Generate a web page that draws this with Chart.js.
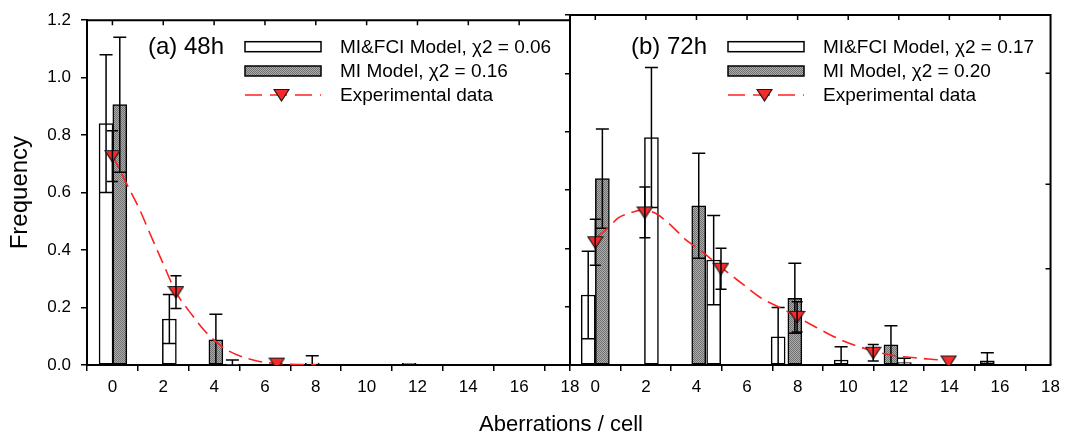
<!DOCTYPE html>
<html>
<head>
<meta charset="utf-8">
<script src="https://cdn.jsdelivr.net/npm/chart.js@4.4.1/dist/chart.umd.min.js"></script>
<style>
  html, body { margin: 0; padding: 0; background: #fff; }
  #wrap { position: relative; width: 1066px; height: 441px; overflow: hidden;
          font-family: "Liberation Sans", Arial, sans-serif; }
  #wrap canvas { position: absolute; left: 0; top: 0; }
  #xtitle { position: absolute; left: 0; top: 410px; width: 1122px; text-align: center;
            font-size: 22px; line-height: 28px; color: #000; }
</style>
</head>
<body>
<div id="wrap">
  <canvas id="c48" width="1066" height="441"></canvas>
  <canvas id="c72" width="1066" height="441"></canvas>
  <div id="xtitle">Aberrations / cell</div>
</div>
<script>
// Axis ticks shared by both panels
const xTicks = [0, 2, 4, 6, 8, 10, 12, 14, 16, 18];
const yTicks = [0, 0.2, 0.4, 0.6, 0.8, 1.0, 1.2];

// ---- 48 h ----
const fciX48 = [-0.25, 2.24, 4.72, 7.86];
const fciY48 = [0.84, 0.16, 0.003, 0.007];
const fciErr48 = [0.24, 0.085, 0.014, 0.025];

const miX48 = [0.29, 4.07, 11.67];
const miY48 = [0.906, 0.088, 0.006];
const miErr48 = [0.235, 0.089, 0];

const expX48 = [0, 2.5, 6.47];
const expY48 = [0.727, 0.254, 0.005];
const expErr48 = [0.088, 0.057, 0];

const fitX48 = [0, 0.54, 1.06, 1.45, 1.96, 2.5, 3.15, 3.67, 4.46, 5.5, 6.47, 8];
const fitY48 = [0.73, 0.634, 0.543, 0.463, 0.36, 0.254, 0.172, 0.115, 0.055, 0.018, 0.005, 0.001];

const legend48 = ['MI&FCI Model, \u03C72 = 0.06', 'MI Model, \u03C72 = 0.16', 'Experimental data'];

// ---- 72 h ----
const fciX72 = [-0.28, 2.22, 4.68, 7.23, 9.72, 12.22];
const fciY72 = [0.24, 0.78, 0.36, 0.097, 0.017, 0.008];
const fciErr72 = [0.15, 0.24, 0.153, 0.1, 0.046, 0.015];

const miX72 = [0.28, 4.09, 7.89, 11.69, 15.5];
const miY72 = [0.639, 0.546, 0.229, 0.069, 0.014];
const miErr72 = [0.17, 0.18, 0.12, 0.066, 0.028];

const expX72 = [0, 1.96, 4.97, 7.98, 10.99, 13.97];
const expY72 = [0.421, 0.523, 0.33, 0.165, 0.042, 0.012];
const expErr72 = [0.079, 0.087, 0.07, 0.052, 0.028, 0];

const fitX72 = [0.1, 0.62, 0.88, 1.34, 1.86, 2.38, 2.9, 3.56, 4.22, 4.94, 5.79, 6.57, 7.36, 8.02, 8.8, 9.72, 10.64, 11.68, 12.86, 13.65, 14];
const fitY72 = [0.44, 0.48, 0.503, 0.52, 0.531, 0.52, 0.486, 0.431, 0.389, 0.337, 0.28, 0.229, 0.194, 0.163, 0.126, 0.086, 0.057, 0.034, 0.023, 0.017, 0.012];

const legend72 = ['MI&FCI Model, \u03C72 = 0.17', 'MI Model, \u03C72 = 0.20', 'Experimental data'];

// Marks on the right-hand frame of the 72 h panel
const rightMarks72 = [1.0, 0.62, 0.33];

const FONT = '"Liberation Sans", Arial, sans-serif';
Chart.defaults.font.family = FONT;
Chart.defaults.color = '#000';

const pts = (xs, ys) => xs.map((v, i) => ({ x: v, y: ys[i] }));

// Fine dotted grey fill for the MI model bars
function makeGrey() {
  const c = document.createElement('canvas');
  c.width = 2; c.height = 2;
  const g = c.getContext('2d');
  g.fillStyle = '#adadad'; g.fillRect(0, 0, 2, 2);
  g.fillStyle = '#707070'; g.fillRect(0, 0, 1, 1); g.fillRect(1, 1, 1, 1);
  return g.createPattern(c, 'repeat');
}
const grey = makeGrey();

// Downward red triangle marker (slightly flattened)
function makeMarker() {
  const c = document.createElement('canvas');
  c.width = 17; c.height = 14;
  const g = c.getContext('2d');
  g.beginPath();
  g.moveTo(1, 1.5); g.lineTo(16, 1.5); g.lineTo(8.5, 13);
  g.closePath();
  g.fillStyle = '#f42b2b'; g.fill();
  g.strokeStyle = '#1a1a1a'; g.lineWidth = 1.2; g.stroke();
  return c;
}
const marker = makeMarker();

// Symmetric error bars for any dataset carrying an `errors` array
const errorBars = {
  id: 'errorBars',
  afterDatasetDraw(chart, args) {
    const ds = chart.data.datasets[args.index];
    if (!ds.errors) return;
    const { ctx, chartArea: a, scales: { x, y } } = chart;
    ctx.save();
    ctx.beginPath(); ctx.rect(a.left, a.top, a.right - a.left, a.bottom - a.top); ctx.clip();
    ctx.strokeStyle = '#000'; ctx.lineWidth = 1.5;
    ds.data.forEach((p, i) => {
      const e = ds.errors[i];
      if (!e) return;
      const px = x.getPixelForValue(p.x);
      const hi = y.getPixelForValue(p.y + e);
      const lo = y.getPixelForValue(Math.max(p.y - e, 0));
      const hw = ds.capWidth / 2;
      ctx.beginPath();
      ctx.moveTo(px, hi); ctx.lineTo(px, lo);
      ctx.moveTo(px - hw, hi); ctx.lineTo(px + hw, hi);
      if (p.y - e > 0) { ctx.moveTo(px - hw, lo); ctx.lineTo(px + hw, lo); }
      ctx.stroke();
    });
    ctx.restore();
  }
};

// Frame (top/right edges, inner ticks) and the panel legend
const frame = {
  id: 'frame',
  afterDraw(chart, args, opts) {
    const { ctx, chartArea: a, scales: { x, y } } = chart;
    ctx.save();
    ctx.strokeStyle = '#000';
    ctx.lineWidth = 2;
    ctx.beginPath();
    ctx.moveTo(a.left - 1, a.top); ctx.lineTo(a.right, a.top); ctx.lineTo(a.right, a.bottom);
    ctx.stroke();
    ctx.lineWidth = 1.5;
    ctx.beginPath();
    xTicks.forEach(v => {
      const px = x.getPixelForValue(v);
      if (px <= a.left + 1 || px >= a.right - 1) return;
      ctx.moveTo(px, a.top); ctx.lineTo(px, a.top + 5);
    });
    (opts.rightMarks || []).forEach(v => {
      const py = y.getPixelForValue(v);
      ctx.moveTo(a.right, py); ctx.lineTo(a.right - 5, py);
    });
    ctx.stroke();

    // legend
    const L = a.left;
    ctx.fillStyle = '#000';
    ctx.textBaseline = 'middle';
    ctx.textAlign = 'left';
    ctx.font = '24px ' + FONT;
    ctx.fillText(opts.title, L + 61, 47);
    const bx = L + 158, bw = 76, tx = L + 253;
    const rows = [46.7, 71, 95];
    ctx.lineWidth = 1.5;
    ctx.fillStyle = '#fff';
    ctx.fillRect(bx, rows[0] - 5, bw, 10);
    ctx.strokeRect(bx, rows[0] - 5, bw, 10);
    ctx.fillStyle = grey;
    ctx.fillRect(bx, rows[1] - 5, bw, 10);
    ctx.strokeRect(bx, rows[1] - 5, bw, 10);
    ctx.strokeStyle = '#ff2020';
    ctx.lineWidth = 1.6;
    ctx.setLineDash([17, 8]);
    ctx.beginPath(); ctx.moveTo(bx, rows[2]); ctx.lineTo(bx + bw, rows[2]); ctx.stroke();
    ctx.setLineDash([]);
    ctx.drawImage(marker, Math.round(bx + bw / 2 - 2 - marker.width / 2), Math.round(rows[2] - marker.height / 2));
    ctx.fillStyle = '#000';
    ctx.font = '19px ' + FONT;
    opts.labels.forEach((t, i) => ctx.fillText(t, tx, rows[i] + 1));
    ctx.restore();
  }
};

function panel(id, d) {
  return new Chart(document.getElementById(id), {
    type: 'bar',
    data: {
      datasets: [
        { type: 'scatter', label: d.labels[2], data: pts(d.expX, d.expY), errors: d.expErr, capWidth: 11,
          pointStyle: marker, pointRadius: 8, pointHoverRadius: 8, order: 0 },
        { type: 'line', label: 'fit', data: pts(d.fitX, d.fitY), borderColor: '#ff2020', borderWidth: 1.6,
          borderDash: [14, 7], pointRadius: 0, cubicInterpolationMode: 'monotone', fill: false, order: 1 },
        { type: 'bar', label: d.labels[1], data: pts(d.miX, d.miY), errors: d.miErr, capWidth: 13,
          backgroundColor: grey, borderColor: '#000', borderWidth: 1.5, borderSkipped: false,
          barThickness: 14, grouped: false, order: 2 },
        { type: 'bar', label: d.labels[0], data: pts(d.fciX, d.fciY), errors: d.fciErr, capWidth: 13,
          backgroundColor: '#fff', borderColor: '#000', borderWidth: 1.5, borderSkipped: false,
          barThickness: 14, grouped: false, order: 3 }
      ]
    },
    options: {
      responsive: false,
      animation: false,
      devicePixelRatio: 1,
      layout: { padding: d.padding },
      plugins: {
        legend: { display: false },
        tooltip: { enabled: false },
        frame: { title: d.title, labels: d.labels, rightMarks: d.rightMarks }
      },
      scales: {
        x: {
          type: 'linear', min: -1, max: 18, offset: false,
          afterBuildTicks: s => { s.ticks = xTicks.map(v => ({ value: v })); },
          afterFit: s => { s.height = 76; },
          grid: { drawOnChartArea: false, drawTicks: true, tickLength: 6, color: '#000', lineWidth: 1.5 },
          border: { display: true, color: '#000', width: 2 },
          ticks: { font: { size: 17 }, color: '#000', padding: 6, maxRotation: 0, autoSkip: false }
        },
        y: {
          type: 'linear', min: 0, max: 1.2,
          afterBuildTicks: s => { s.ticks = yTicks.map(v => ({ value: v })); },
          afterFit: s => { s.width = d.yWidth; },
          grid: { drawOnChartArea: false, drawTicks: true, tickLength: d.yTick, color: '#000', lineWidth: 1.5 },
          border: { display: true, color: '#000', width: 2 },
          ticks: { display: d.yLabels, font: { size: 17 }, color: '#000', padding: 10,
                   callback: v => v.toFixed(1) },
          title: { display: d.yLabels, text: 'Frequency', font: { size: 24 }, color: '#000',
                   padding: { top: 6, bottom: 0 } }
        }
      }
    },
    plugins: [errorBars, frame]
  });
}

panel('c48', {
  title: '(a) 48h', labels: legend48,
  fciX: fciX48, fciY: fciY48, fciErr: fciErr48,
  miX: miX48, miY: miY48, miErr: miErr48,
  expX: expX48, expY: expY48, expErr: expErr48,
  fitX: fitX48, fitY: fitY48,
  padding: { left: 0, right: 496, top: 15, bottom: 0 },
  yWidth: 87, yTick: 6, yLabels: true, rightMarks: []
});

panel('c72', {
  title: '(b) 72h', labels: legend72,
  fciX: fciX72, fciY: fciY72, fciErr: fciErr72,
  miX: miX72, miY: miY72, miErr: miErr72,
  expX: expX72, expY: expY72, expErr: expErr72,
  fitX: fitX72, fitY: fitY72,
  padding: { left: 565, right: 12, top: 15, bottom: 0 },
  yWidth: 5, yTick: 5, yLabels: false, rightMarks: rightMarks72
});
</script>
</body>
</html>
